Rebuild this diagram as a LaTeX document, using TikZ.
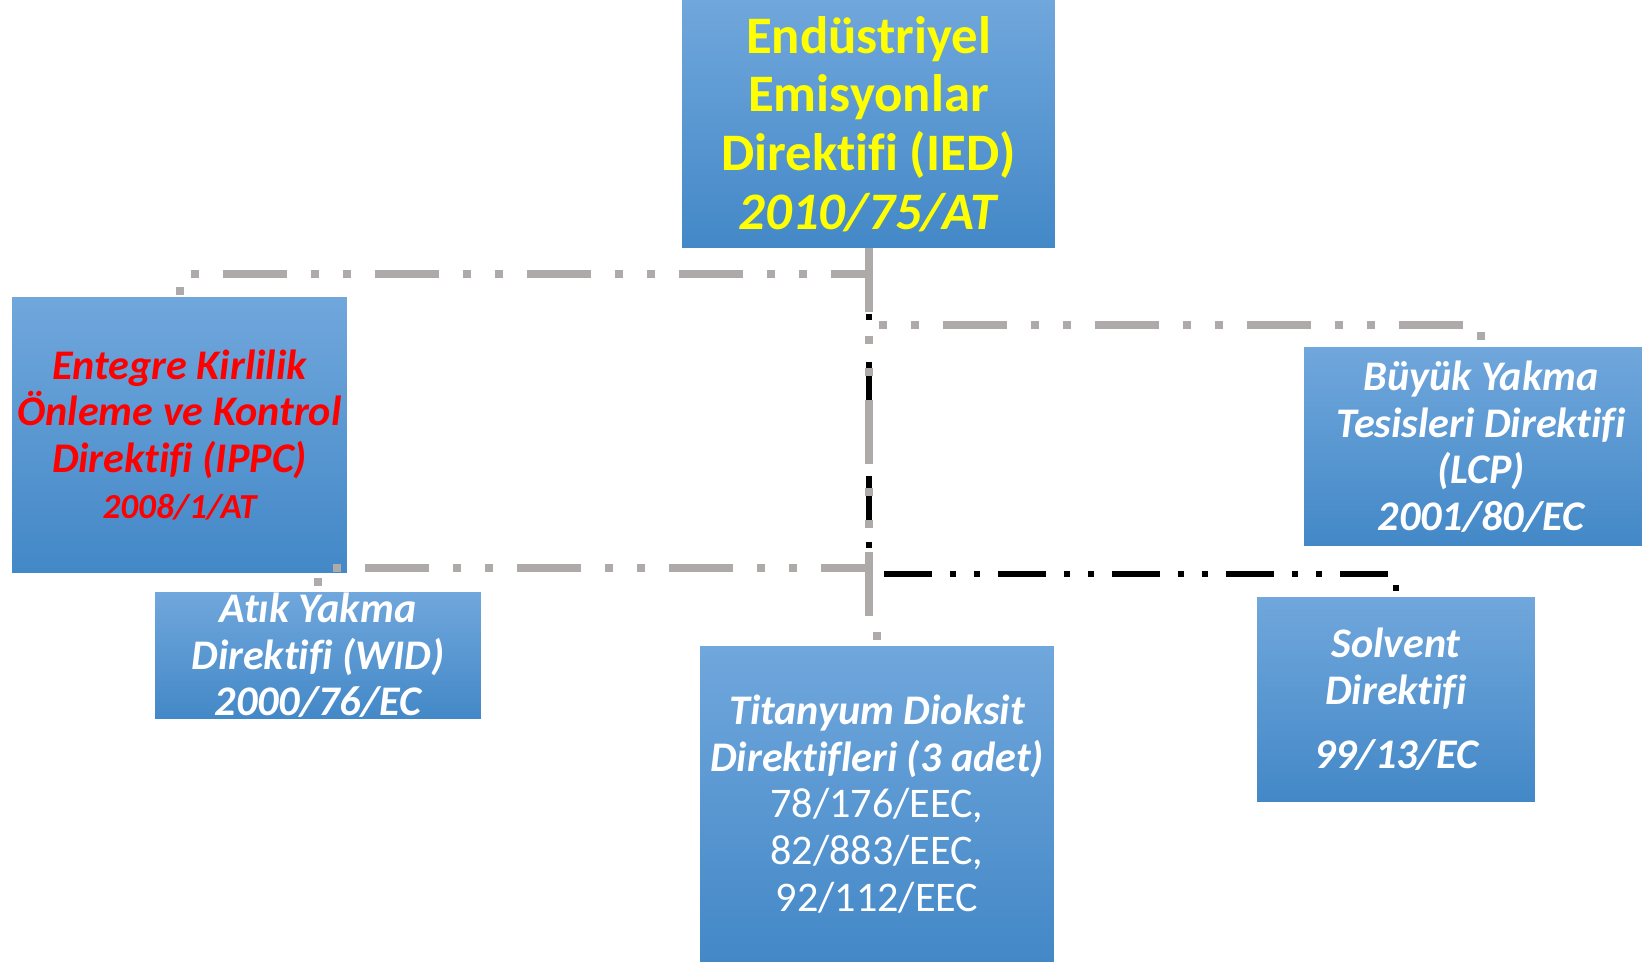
\documentclass[tikz,border=0pt]{standalone}
\usepackage{fontspec}
\setmainfont{Carlito}[Ligatures=NoCommon]

\definecolor{boxtop}{RGB}{112,167,220}
\definecolor{boxbot}{RGB}{67,136,199}
\definecolor{lgray}{RGB}{174,170,170}
\definecolor{iedyellow}{RGB}{255,255,0}

\tikzstyle{block} = [rectangle, top color=boxtop, bottom color=boxbot, inner sep=0pt, align=center, text=white, font=\fontsize{24}{26.5}\selectfont\bfseries\itshape]
\tikzstyle{gline} = [draw, lgray, line width=0.16cm, dash pattern=on 1.28cm off 0.48cm on 0.16cm off 0.48cm on 0.16cm off 0.48cm]
\tikzstyle{bline} = [draw, black, line width=0.12cm, dash pattern=on 0.96cm off 0.36cm on 0.12cm off 0.36cm on 0.12cm off 0.36cm]

\begin{document}
\begin{tikzpicture}[x=0.02cm, y=-0.02cm]
    \useasboundingbox (0,0) rectangle (1642,962);

    \node[block, minimum width=7.46cm, minimum height=4.96cm, text=iedyellow, font=\fontsize{30}{33.4}\selectfont\bfseries] (ied) at (868.5,124) {Endüstriyel\\Emisyonlar\\Direktifi (IED)\\\textit{2010/75/AT}};

    \node[block, minimum width=6.7cm, minimum height=5.52cm, text=red] (ippc) at (179.5,435) {Entegre Kirlilik\\Önleme ve Kontrol\\Direktifi (IPPC)\\{\fontsize{20}{24}\selectfont 2008/1/AT}};
    \node[block, minimum width=6.52cm, minimum height=2.54cm] (wid) at (318,655.5) {Atık Yakma\\Direktifi (WID)\\2000/76/EC};
    \node[block, minimum width=7.08cm, minimum height=6.32cm] (tio) at (877,804) {Titanyum Dioksit\\Direktifleri (3 adet)\\{\mdseries\upshape 78/176/EEC,}\\{\mdseries\upshape 82/883/EEC,}\\{\mdseries\upshape 92/112/EEC}};
    \node[block, minimum width=7.08cm, minimum height=3.98cm] (lcp) at (1481,446.5) {Büyük Yakma\\Tesisleri Direktifi\\(LCP)\\2001/80/EC};
    \node[block, minimum width=5.56cm, minimum height=4.1cm] (solv) at (1396,699.5) {Solvent\\Direktifi\\[10pt]99/13/EC};

    % lines
    \draw[bline] (ied.south) -- ++(0,326) -| (solv.north);
    \draw[gline] (ied.south) -- ++(0,26) -| (ippc.north);
    \draw[gline] (ied.south) -- ++(0,77) -| (lcp.north);
    \draw[gline] (ied.south) -- ++(0,320) -| (wid.north);
    \draw[gline] (ied.south) -- ++(0,373) -| (tio.north);
\end{tikzpicture}
\end{document}
